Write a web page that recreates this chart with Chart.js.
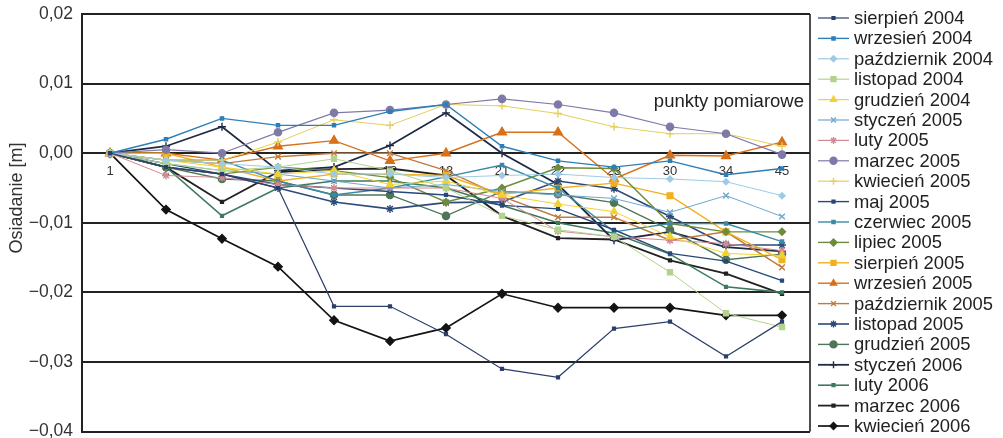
<!DOCTYPE html>
<html lang="pl">
<head>
<meta charset="utf-8">
<title>Osiadanie punktów pomiarowych</title>
<script src="https://cdn.jsdelivr.net/npm/chart.js@4/dist/chart.umd.min.js"></script>
<style>
  html, body { margin: 0; padding: 0; background: #fff; overflow: hidden; }
  #wrap { width: 1003px; height: 438px; }
</style>
</head>
<body>
<div id="wrap"><canvas id="c" width="1003" height="438"></canvas></div>
<script>
// Measurement points (x categories)
const punkty = ['1', '2', '3', '4', '5', '12', '13', '21', '22', '23', '30', '34', '45'];

// Y axis ticks [m]
const yTicks = [0.02, 0.01, 0.00, -0.01, -0.02, -0.03, -0.04];

// Settlement per survey [m], one value per measurement point
const sierpien2004     = [0, -0.0020, -0.0030, -0.0050, -0.0220, -0.0220, -0.0260, -0.0310, -0.0322, -0.0252, -0.0242, -0.0292, -0.0242];
const wrzesien2004     = [0,  0.0020,  0.0050,  0.0040,  0.0040,  0.0060,  0.0070,  0.0010, -0.0011, -0.0020, -0.0011, -0.0031, -0.0022];
const pazdziernik2004  = [0, -0.0010, -0.0015, -0.0020, -0.0030, -0.0030, -0.0035, -0.0032, -0.0030, -0.0035, -0.0037, -0.0041, -0.0061];
const listopad2004     = [0, -0.0015, -0.0025, -0.0020, -0.0008, -0.0025, -0.0050, -0.0090, -0.0110, -0.0120, -0.0171, -0.0230, -0.0250];
const grudzien2004     = [0, -0.0010, -0.0020, -0.0030, -0.0025, -0.0045, -0.0040, -0.0060, -0.0073, -0.0084, -0.0120, -0.0144, -0.0147];
const styczen2005      = [0, -0.0015, -0.0025, -0.0030, -0.0040, -0.0050, -0.0045, -0.0055, -0.0060, -0.0065, -0.0085, -0.0061, -0.0091];
const luty2005         = [0, -0.0032, -0.0035, -0.0045, -0.0050, -0.0050, -0.0050, -0.0065, -0.0112, -0.0120, -0.0125, -0.0130, -0.0140];
const marzec2005       = [0,  0.0005,  0.0000,  0.0030,  0.0058,  0.0062,  0.0070,  0.0078,  0.0070,  0.0058,  0.0038,  0.0028, -0.0002];
const kwiecien2005     = [0, -0.0010, -0.0010,  0.0016,  0.0048,  0.0040,  0.0070,  0.0068,  0.0057,  0.0038,  0.0028,  0.0028,  0.0010];
const maj2005          = [0, -0.0015, -0.0030, -0.0045, -0.0050, -0.0055, -0.0060, -0.0075, -0.0080, -0.0110, -0.0144, -0.0155, -0.0183];
const czerwiec2005     = [0, -0.0010, -0.0010, -0.0040, -0.0060, -0.0050, -0.0034, -0.0017, -0.0050, -0.0113, -0.0101, -0.0101, -0.0127];
const lipiec2005       = [0, -0.0020, -0.0030, -0.0020, -0.0025, -0.0035, -0.0070, -0.0050, -0.0021, -0.0022, -0.0101, -0.0113, -0.0113];
const sierpien2005     = [0,  0.0000, -0.0020, -0.0040, -0.0030, -0.0030, -0.0032, -0.0059, -0.0050, -0.0043, -0.0061, -0.0113, -0.0153];
const wrzesien2005     = [0,  0.0000, -0.0010,  0.0010,  0.0018, -0.0011,  0.0000,  0.0030,  0.0030, -0.0037, -0.0003, -0.0004,  0.0016];
const pazdziernik2005  = [0, -0.0010, -0.0015, -0.0005,  0.0000,  0.0000, -0.0025, -0.0062, -0.0092, -0.0092, -0.0125, -0.0113, -0.0164];
const listopad2005     = [0, -0.0020, -0.0030, -0.0050, -0.0070, -0.0080, -0.0071, -0.0070, -0.0040, -0.0051, -0.0091, -0.0132, -0.0132];
const grudzien2005     = [0, -0.0020, -0.0037, -0.0040, -0.0060, -0.0060, -0.0090, -0.0055, -0.0059, -0.0071, -0.0110, -0.0153, -0.0145];
const styczen2006      = [0,  0.0010,  0.0038, -0.0025, -0.0020,  0.0011,  0.0058,  0.0000, -0.0045, -0.0125, -0.0113, -0.0135, -0.0141];
const luty2006         = [0, -0.0020, -0.0090, -0.0050, -0.0040, -0.0040, -0.0050, -0.0075, -0.0100, -0.0115, -0.0145, -0.0192, -0.0200];
const marzec2006       = [0, -0.0020, -0.0070, -0.0027, -0.0023, -0.0022, -0.0032, -0.0090, -0.0122, -0.0124, -0.0154, -0.0173, -0.0202];
const kwiecien2006     = [0, -0.0081, -0.0123, -0.0163, -0.0240, -0.0270, -0.0251, -0.0202, -0.0222, -0.0222, -0.0222, -0.0233, -0.0233];

const seriesNames = [
  'sierpień 2004', 'wrzesień 2004', 'październik 2004', 'listopad 2004', 'grudzień 2004',
  'styczeń 2005', 'luty 2005', 'marzec 2005', 'kwiecień 2005', 'maj 2005', 'czerwiec 2005',
  'lipiec 2005', 'sierpień 2005', 'wrzesień 2005', 'październik 2005', 'listopad 2005',
  'grudzień 2005', 'styczeń 2006', 'luty 2006', 'marzec 2006', 'kwiecień 2006'
];
const seriesValues = [
  sierpien2004, wrzesien2004, pazdziernik2004, listopad2004, grudzien2004,
  styczen2005, luty2005, marzec2005, kwiecien2005, maj2005, czerwiec2005,
  lipiec2005, sierpien2005, wrzesien2005, pazdziernik2005, listopad2005,
  grudzien2005, styczen2006, luty2006, marzec2006, kwiecien2006
];

// Styles per series
const colors = [
  '#2c3e6b', '#2f7fb6', '#9dcbe6', '#b3d38c', '#f2d232',
  '#6fa7cf', '#d08a92', '#7e7aa8', '#e7cf5a', '#27487a', '#3a8aa6',
  '#6e8c3a', '#f0b020', '#d8701a', '#c07a3a', '#2d4a78',
  '#4e7558', '#1e2b45', '#3d7a5e', '#222222', '#141414'
];
const markers = [
  'rect', 'rect', 'rectRot', 'rect', 'triangle',
  'crossRot', 'star', 'circle', 'cross', 'rect', 'rect',
  'rectRot', 'rect', 'triangle', 'crossRot', 'star',
  'circle', 'cross', 'rect', 'rect', 'rectRot'
];
const markerSizes = [2, 2.2, 3, 3.5, 4, 4, 4, 3.6, 4, 2, 2.2, 3.5, 4, 5, 4, 4, 3.6, 4, 2, 2, 4.2];
const lineWidths = [1.2, 1.4, 1, 1, 1, 1, 1, 1.2, 1, 1.4, 1.4, 1.4, 1.4, 1.4, 1.4, 1.6, 1.4, 1.8, 1.6, 1.8, 1.7];

const FONT = '"Liberation Sans", Arial, Helvetica, sans-serif';

const datasets = seriesValues.map((vals, i) => ({
  label: seriesNames[i],
  data: vals,
  borderColor: colors[i],
  backgroundColor: colors[i],
  borderWidth: lineWidths[i],
  pointStyle: markers[i],
  pointRadius: markerSizes[i],
  pointHoverRadius: markerSizes[i],
  pointBackgroundColor: colors[i],
  pointBorderColor: colors[i],
  pointBorderWidth: 1.4,
  tension: 0,
  fill: false
}));

function fmtTick(v) {
  const s = Math.abs(v).toFixed(2).replace('.', ',');
  return (v < -1e-9 ? '\u2212' : '') + s;
}

function drawMarker(ctx, style, r, x, y, color) {
  if (Chart.helpers && Chart.helpers.drawPoint) {
    ctx.save();
    ctx.fillStyle = color;
    ctx.strokeStyle = color;
    ctx.lineWidth = 1.4;
    Chart.helpers.drawPoint(ctx, { pointStyle: style, radius: r, rotation: 0, borderWidth: 1.4 }, x, y);
    ctx.restore();
  } else {
    ctx.beginPath();
    ctx.fillStyle = color;
    ctx.arc(x, y, r, 0, Math.PI * 2);
    ctx.fill();
  }
}

const decorations = {
  id: 'decorations',
  afterDraw(chart) {
    const { ctx, chartArea } = chart;
    ctx.save();
    // right frame edge
    ctx.strokeStyle = '#222';
    ctx.lineWidth = 1.6;
    ctx.beginPath();
    ctx.moveTo(chartArea.right, chartArea.top);
    ctx.lineTo(chartArea.right, chartArea.bottom);
    ctx.stroke();

    // caption inside plot
    ctx.fillStyle = '#222';
    ctx.font = '18.5px ' + FONT;
    ctx.textAlign = 'right';
    ctx.textBaseline = 'middle';
    ctx.fillText('punkty pomiarowe', chartArea.right - 6, 102);

    // y axis title
    ctx.save();
    ctx.translate(17, 198);
    ctx.rotate(-Math.PI / 2);
    ctx.font = '18px ' + FONT;
    ctx.fillStyle = '#333';
    ctx.textAlign = 'center';
    ctx.textBaseline = 'middle';
    ctx.fillText('Osiadanie [m]', 0, 0);
    ctx.restore();

    // legend
    const lx0 = 818, lx1 = 849, tx = 854, y0 = 18, dy = 20.4;
    chart.data.datasets.forEach((ds, i) => {
      const y = y0 + i * dy;
      ctx.strokeStyle = ds.borderColor;
      ctx.lineWidth = Math.max(1.2, ds.borderWidth);
      ctx.beginPath();
      ctx.moveTo(lx0, y);
      ctx.lineTo(lx1, y);
      ctx.stroke();
      drawMarker(ctx, ds.pointStyle, Math.min(ds.pointRadius, 3.5), (lx0 + lx1) / 2, y, ds.borderColor);
      ctx.fillStyle = '#222';
      ctx.font = '18.4px ' + FONT;
      ctx.textAlign = 'left';
      ctx.textBaseline = 'middle';
      ctx.fillText(ds.label, tx, y + 1);
    });
    ctx.restore();
  }
};

new Chart(document.getElementById('c'), {
  type: 'line',
  data: { labels: punkty, datasets },
  options: {
    responsive: false,
    animation: false,
    events: [],
    layout: { padding: { left: 0, top: 14, right: 193, bottom: 6 } },
    plugins: { legend: { display: false }, tooltip: { enabled: false } },
    scales: {
      x: {
        type: 'category',
        position: { y: 0 },
        offset: true,
        grid: { display: false },
        border: { display: false },
        ticks: {
          color: '#333',
          font: { family: FONT, size: 13 },
          padding: 2,
          maxRotation: 0,
          autoSkip: false
        },
        afterFit(scale) {
          scale.paddingLeft = 0;
          scale.paddingRight = 0;
        }
      },
      y: {
        min: -0.04,
        max: 0.02,
        afterBuildTicks(scale) {
          scale.ticks = yTicks.map(v => ({ value: v }));
        },
        grid: { color: '#222', lineWidth: 2, drawTicks: false },
        border: { display: true, color: '#222', width: 2 },
        ticks: {
          color: '#333',
          font: { family: FONT, size: 17.5 },
          padding: 9,
          callback: (v) => fmtTick(v)
        },
        afterFit(scale) {
          scale.width = 82;
          scale.paddingTop = 0;
          scale.paddingBottom = 0;
        }
      }
    }
  },
  plugins: [decorations]
});
</script>
</body>
</html>
